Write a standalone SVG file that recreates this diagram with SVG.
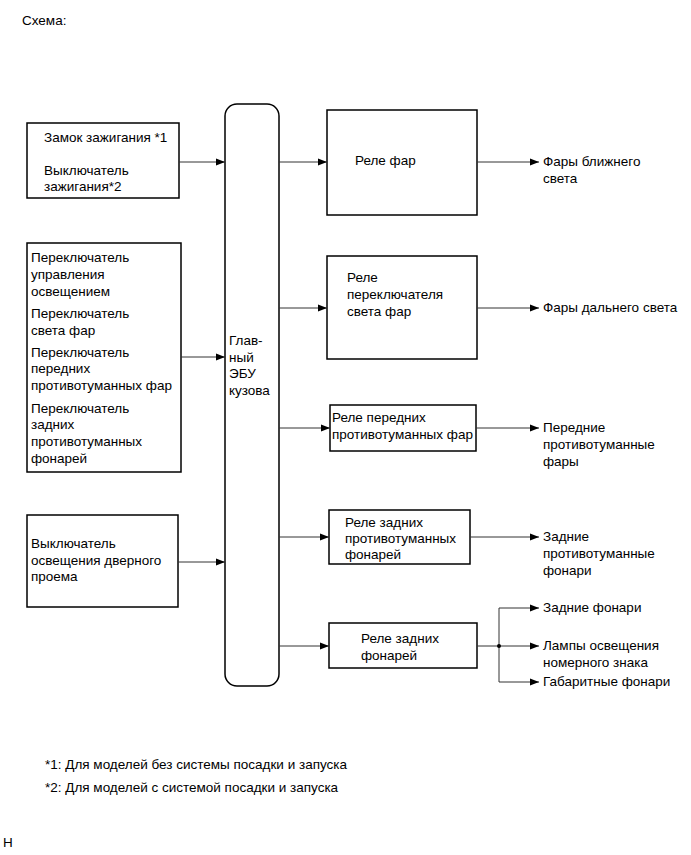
<svg xmlns="http://www.w3.org/2000/svg" width="691" height="855" viewBox="0 0 691 855">
<defs>
<marker id="ah" markerWidth="10" markerHeight="8" refX="9" refY="4" orient="auto" markerUnits="userSpaceOnUse">
<path d="M0,0.5 L9,4 L0,7.5 Z" fill="#000"/>
</marker>
<style>
text{font-family:"Liberation Sans",Arial,sans-serif;font-size:13.5px;fill:#000}
.box{fill:#fff;stroke:#000;stroke-width:1.5}
.ln{fill:none;stroke:#333;stroke-width:1}
.arr{fill:none;stroke:#333;stroke-width:1;marker-end:url(#ah)}
</style>
</defs>
<rect width="691" height="855" fill="#fff"/>
<text x="22" y="25">Схема:</text>

<g id="ignition">
<rect class="box" x="27" y="123" width="152" height="75"/>
<text x="44" y="142">Замок зажигания *1</text>
<text x="44" y="175">Выключатель</text>
<text x="44" y="191">зажигания*2</text>
</g>

<g id="switches">
<rect class="box" x="27" y="243" width="154" height="229"/>
<text x="31" y="262">Переключатель</text>
<text x="31" y="279">управления</text>
<text x="31" y="296">освещением</text>
<text x="31" y="318">Переключатель</text>
<text x="31" y="335">света фар</text>
<text x="31" y="357">Переключатель</text>
<text x="31" y="373">передних</text>
<text x="31" y="390">противотуманных фар</text>
<text x="31" y="413">Переключатель</text>
<text x="31" y="429">задних</text>
<text x="31" y="446">противотуманных</text>
<text x="31" y="463">фонарей</text>
</g>

<g id="door">
<rect class="box" x="27" y="515" width="151" height="92"/>
<text x="31" y="548">Выключатель</text>
<text x="31" y="565">освещения дверного</text>
<text x="31" y="581">проема</text>
</g>

<g id="ecu">
<rect class="box" x="225" y="104" width="54" height="582" rx="12" ry="12"/>
<text x="229" y="345">Глав-</text>
<text x="229" y="362">ный</text>
<text x="229" y="378">ЭБУ</text>
<text x="229" y="395">кузова</text>
</g>

<g id="relay1">
<rect class="box" x="327" y="110" width="150" height="105"/>
<text x="355" y="165">Реле фар</text>
</g>

<g id="relay2">
<rect class="box" x="327" y="256" width="150" height="103"/>
<text x="347" y="282">Реле</text>
<text x="347" y="299">переключателя</text>
<text x="347" y="316">света фар</text>
</g>

<g id="relay3">
<rect class="box" x="330" y="405" width="146" height="46"/>
<text x="332" y="422">Реле передних</text>
<text x="332" y="439">противотуманных фар</text>
</g>

<g id="relay4">
<rect class="box" x="329" y="510" width="141" height="54"/>
<text x="345" y="527">Реле задних</text>
<text x="345" y="543">противотуманных</text>
<text x="345" y="559">фонарей</text>
</g>

<g id="relay5">
<rect class="box" x="329" y="623" width="148" height="45"/>
<text x="361" y="643">Реле задних</text>
<text x="361" y="660">фонарей</text>
</g>

<g id="outputs">
<text x="543" y="166">Фары ближнего</text>
<text x="543" y="183">света</text>
<text x="543" y="312">Фары дальнего света</text>
<text x="543" y="432">Передние</text>
<text x="543" y="449">противотуманные</text>
<text x="543" y="466">фары</text>
<text x="543" y="541">Задние</text>
<text x="543" y="558">противотуманные</text>
<text x="543" y="575">фонари</text>
<text x="543" y="612">Задние фонари</text>
<text x="543" y="650">Лампы освещения</text>
<text x="543" y="667">номерного знака</text>
<text x="543" y="686">Габаритные фонари</text>
</g>

<g id="connectors">
<line class="arr" x1="179" y1="162" x2="225" y2="162"/>
<line class="arr" x1="181" y1="357" x2="225" y2="357"/>
<line class="arr" x1="178" y1="562" x2="225" y2="562"/>
<line class="arr" x1="279" y1="162" x2="327" y2="162"/>
<line class="arr" x1="279" y1="308" x2="327" y2="308"/>
<line class="arr" x1="279" y1="428" x2="330" y2="428"/>
<line class="arr" x1="279" y1="537" x2="329" y2="537"/>
<line class="arr" x1="279" y1="646" x2="329" y2="646"/>
<line class="arr" x1="477" y1="162" x2="539" y2="162"/>
<line class="arr" x1="477" y1="308" x2="539" y2="308"/>
<line class="arr" x1="476" y1="428" x2="539" y2="428"/>
<line class="arr" x1="470" y1="537" x2="539" y2="537"/>
<line class="ln" x1="477" y1="646" x2="499" y2="646"/>
<line class="ln" x1="499" y1="608" x2="499" y2="682"/>
<line class="arr" x1="499" y1="608" x2="539" y2="608"/>
<line class="arr" x1="499" y1="646" x2="539" y2="646"/>
<line class="arr" x1="499" y1="682" x2="539" y2="682"/>
<circle cx="499" cy="646" r="2" fill="#000"/>
</g>

<text x="45" y="769">*1: Для моделей без системы посадки и запуска</text>
<text x="45" y="792">*2: Для моделей с системой посадки и запуска</text>
<text x="3" y="847">H</text>
</svg>
